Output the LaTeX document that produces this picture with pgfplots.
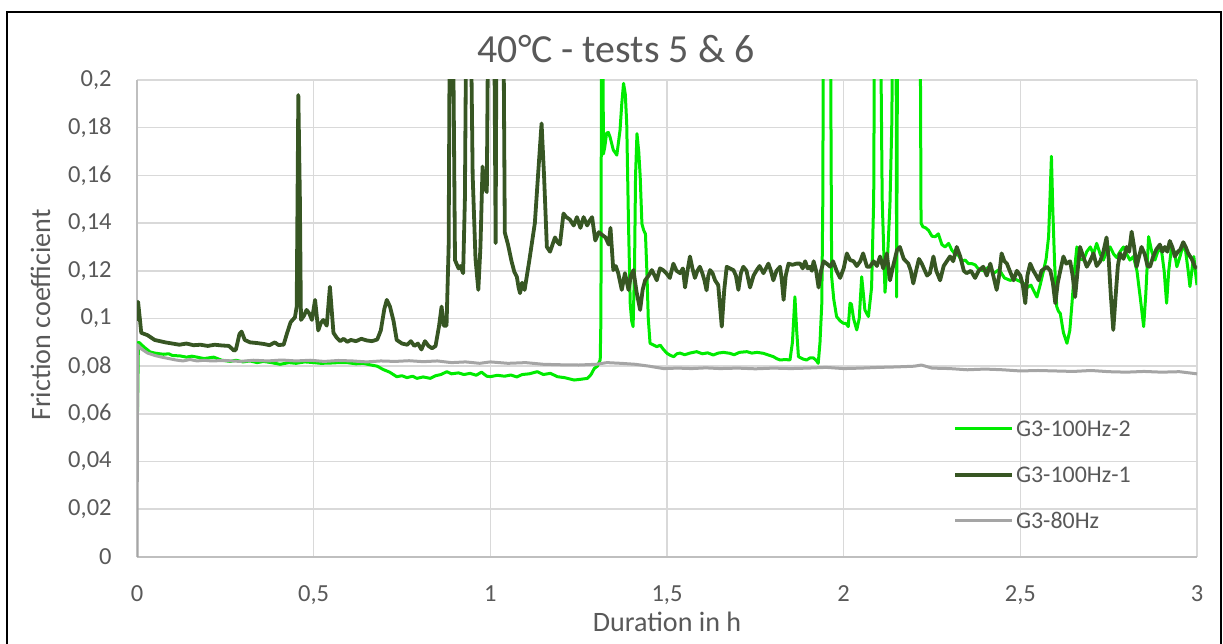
\documentclass[border=0pt]{standalone}
\usepackage{pgfplots}
\pgfplotsset{compat=1.18}
\usepackage{fontspec}
\setmainfont{Carlito}
\definecolor{txt}{HTML}{595959}
\definecolor{gridc}{HTML}{D9D9D9}
\definecolor{axc}{HTML}{BFBFBF}
\definecolor{bright}{RGB}{0,235,0}
\definecolor{dark}{HTML}{375623}
\definecolor{grayl}{HTML}{A5A5A5}
\begin{document}
\begin{tikzpicture}
\useasboundingbox (0,0) rectangle (611.5bp,322bp);
\begin{axis}[
  at={(68.5bp,43.5bp)}, anchor=south west,
  scale only axis, width=530bp, height=238.5bp,
  xmin=0, xmax=3, ymin=0, ymax=0.2,
  axis lines=left, axis line style={draw=axc, line width=0.8bp, -},
  xtick={0,0.5,1,1.5,2,2.5,3},
  xticklabels={0,{0,5},1,{1,5},2,{2,5},3},
  ytick={0,0.02,0.04,0.06,0.08,0.1,0.12,0.14,0.16,0.18,0.2},
  yticklabels={0,{0,02},{0,04},{0,06},{0,08},{0,1},{0,12},{0,14},{0,16},{0,18},{0,2}},
  major tick length=0pt,
  grid=major, major grid style={draw=gridc, line width=0.8bp},
  tick label style={font=\fontsize{12.3}{14}\selectfont, text=txt},
  xticklabel style={anchor=north, inner sep=0pt, yshift=-14bp},
  yticklabel style={anchor=east, inner sep=0pt, xshift=-12.5bp},
  legend image code/.code={\draw[#1] (0bp,0bp) -- (28.5bp,0bp);},
  legend cell align=left,
  legend style={draw=none, fill=none, at={(axis cs:2.292,0.059)}, anchor=north west,
    font=\fontsize{12}{14}\selectfont, text=txt, row sep=15bp, column sep=1bp,
    nodes={inner sep=0pt, text height=8bp, text depth=0bp}},
  every axis plot/.append style={line join=round},
]
\addplot[bright, line width=1.5bp] coordinates {
(0,0.045) (0.004,0.090) (0.008,0.0897) (0.02,0.088) (0.037,0.086) (0.05,0.0855) (0.075,0.085) (0.09,0.0852)
(0.10,0.0845) (0.122,0.0843) (0.14,0.0838) (0.155,0.0842) (0.17,0.0838) (0.19,0.0832) (0.217,0.0838) (0.24,0.0825)
(0.264,0.082) (0.28,0.0825) (0.30,0.0818) (0.32,0.0822) (0.34,0.0815) (0.358,0.082) (0.38,0.0815) (0.405,0.0808)
(0.43,0.0815) (0.45,0.0812) (0.475,0.0818) (0.50,0.0815) (0.52,0.0812) (0.546,0.0813) (0.57,0.0815) (0.594,0.0815)
(0.62,0.081) (0.64,0.0812) (0.659,0.0806) (0.68,0.080) (0.697,0.0786) (0.715,0.0775) (0.735,0.0756) (0.75,0.076)
(0.764,0.0752) (0.78,0.0758) (0.792,0.0749) (0.81,0.0755) (0.83,0.0749) (0.845,0.076) (0.86,0.0765) (0.877,0.0777)
(0.89,0.0768) (0.91,0.0772) (0.925,0.0765) (0.943,0.077) (0.96,0.0762) (0.975,0.0775) (0.99,0.0758) (1.0,0.0756)
(1.02,0.0762) (1.04,0.0758) (1.058,0.0763) (1.075,0.0755) (1.09,0.0765) (1.11,0.0768) (1.133,0.0777) (1.15,0.0765)
(1.17,0.077) (1.19,0.0756) (1.21,0.0752) (1.237,0.0742) (1.255,0.0745) (1.275,0.0749) (1.285,0.0765) (1.294,0.079)
(1.303,0.080) (1.311,0.0827) (1.313,0.10) (1.315,0.25) (1.318,0.25) (1.320,0.169) (1.324,0.172) (1.329,0.1777)
(1.334,0.178) (1.339,0.176) (1.348,0.1707) (1.358,0.1685) (1.367,0.1789) (1.372,0.19) (1.377,0.1986) (1.382,0.194)
(1.386,0.1818) (1.391,0.14) (1.396,0.106) (1.400,0.099) (1.404,0.0966) (1.408,0.12) (1.411,0.160) (1.415,0.1775)
(1.420,0.170) (1.424,0.16) (1.429,0.1397) (1.434,0.137) (1.439,0.1355) (1.443,0.120) (1.447,0.100) (1.452,0.0896)
(1.46,0.089) (1.471,0.0882) (1.481,0.0888) (1.49,0.087) (1.50,0.0854) (1.51,0.0845) (1.519,0.084) (1.528,0.0852)
(1.537,0.0855) (1.55,0.0848) (1.565,0.0855) (1.584,0.0861) (1.60,0.0852) (1.615,0.0856) (1.631,0.0847) (1.645,0.0855)
(1.66,0.0858) (1.678,0.0854) (1.69,0.0848) (1.705,0.0858) (1.726,0.0861) (1.74,0.0855) (1.755,0.0858) (1.773,0.0854)
(1.785,0.0848) (1.801,0.084) (1.81,0.0832) (1.82,0.0826) (1.835,0.0828) (1.848,0.0826) (1.855,0.090) (1.862,0.1091)
(1.867,0.095) (1.872,0.084) (1.885,0.0830) (1.895,0.0826) (1.905,0.0835) (1.914,0.0835) (1.922,0.0825) (1.928,0.0812)
(1.933,0.090) (1.938,0.106) (1.941,0.15) (1.943,0.25) (1.962,0.25) (1.966,0.1175) (1.972,0.108) (1.98,0.1008)
(1.99,0.099) (1.999,0.098) (2.006,0.098) (2.013,0.0966) (2.018,0.1064) (2.022,0.106) (2.028,0.100) (2.037,0.0952)
(2.044,0.100) (2.051,0.1175) (2.056,0.110) (2.06,0.1036) (2.07,0.1008) (2.079,0.113) (2.085,0.15) (2.088,0.25)
(2.103,0.25) (2.109,0.15) (2.117,0.111) (2.124,0.125) (2.131,0.148) (2.136,0.18) (2.141,0.25) (2.148,0.25)
(2.150,0.109) (2.153,0.25) (2.216,0.25) (2.219,0.140) (2.224,0.1385) (2.232,0.138) (2.24,0.137) (2.25,0.1345)
(2.259,0.1343) (2.268,0.1355) (2.278,0.131) (2.287,0.130) (2.297,0.1315) (2.306,0.1287) (2.315,0.127) (2.325,0.1265)
(2.334,0.124) (2.344,0.1245) (2.353,0.123) (2.363,0.123) (2.372,0.1225) (2.38,0.121) (2.395,0.120) (2.41,0.1215)
(2.425,0.119) (2.44,0.1205) (2.455,0.117) (2.471,0.116) (2.485,0.1165) (2.5,0.1155) (2.509,0.1147) (2.52,0.113)
(2.53,0.114) (2.54,0.111) (2.547,0.109) (2.556,0.114) (2.566,0.1203) (2.573,0.125) (2.580,0.1343) (2.585,0.155)
(2.588,0.168) (2.592,0.145) (2.597,0.123) (2.603,0.105) (2.608,0.103) (2.613,0.1022) (2.622,0.094) (2.632,0.0896)
(2.640,0.095) (2.646,0.106) (2.653,0.12) (2.660,0.130) (2.669,0.125) (2.679,0.1245) (2.688,0.128) (2.698,0.130)
(2.707,0.127) (2.716,0.1315) (2.726,0.127) (2.735,0.1245) (2.744,0.128) (2.754,0.130) (2.764,0.127) (2.773,0.1255)
(2.782,0.128) (2.792,0.130) (2.801,0.127) (2.81,0.1245) (2.82,0.126) (2.83,0.12) (2.84,0.108) (2.849,0.0966)
(2.855,0.11) (2.863,0.1343) (2.872,0.128) (2.881,0.1245) (2.891,0.129) (2.900,0.128) (2.907,0.12) (2.914,0.1064)
(2.920,0.12) (2.928,0.130) (2.936,0.128) (2.943,0.1217) (2.952,0.126) (2.961,0.131) (2.968,0.128) (2.975,0.12)
(2.980,0.1134) (2.987,0.122) (2.991,0.126) (2.996,0.119) (3.0,0.114)
};
\addlegendentry{G3-100Hz-2}
\addplot[dark, line width=1.9bp] coordinates {
(0,0.099) (0.003,0.107) (0.008,0.100) (0.012,0.094) (0.03,0.093) (0.05,0.091) (0.08,0.090) (0.10,0.0895)
(0.12,0.0890) (0.14,0.0895) (0.16,0.0888) (0.18,0.0890) (0.20,0.0885) (0.22,0.0890) (0.24,0.0887) (0.26,0.0885)
(0.275,0.0865) (0.28,0.087) (0.29,0.0935) (0.296,0.0945) (0.305,0.091) (0.32,0.090) (0.34,0.0897) (0.36,0.0893)
(0.375,0.0888) (0.39,0.090) (0.40,0.0889) (0.415,0.0890) (0.425,0.094) (0.435,0.0985) (0.447,0.1005) (0.452,0.105)
(0.4566,0.1937) (0.461,0.150) (0.464,0.0994) (0.472,0.1010) (0.480,0.1036) (0.488,0.1020) (0.495,0.0994) (0.504,0.1078)
(0.513,0.095) (0.520,0.098) (0.527,0.0994) (0.537,0.097) (0.546,0.1133) (0.556,0.094) (0.565,0.092) (0.575,0.0905)
(0.585,0.0915) (0.595,0.0902) (0.605,0.0910) (0.62,0.0905) (0.635,0.0915) (0.65,0.0908) (0.665,0.0905) (0.68,0.0912)
(0.69,0.095) (0.70,0.104) (0.707,0.1078) (0.716,0.105) (0.726,0.099) (0.735,0.091) (0.75,0.0895) (0.765,0.089)
(0.775,0.0905) (0.785,0.0885) (0.795,0.0895) (0.805,0.087) (0.815,0.0905) (0.825,0.0885) (0.835,0.0875) (0.845,0.0885)
(0.855,0.097) (0.862,0.105) (0.868,0.097) (0.876,0.097) (0.882,0.130) (0.886,0.25) (0.893,0.25) (0.90,0.1245)
(0.91,0.121) (0.915,0.122) (0.923,0.119) (0.928,0.150) (0.933,0.25) (0.943,0.25) (0.950,0.16) (0.958,0.125)
(0.966,0.112) (0.972,0.130) (0.978,0.1637) (0.984,0.155) (0.990,0.153) (0.995,0.25) (1.010,0.25) (1.015,0.1316)
(1.018,0.25) (1.036,0.25) (1.041,0.136) (1.05,0.131) (1.06,0.124) (1.068,0.1195) (1.075,0.1175) (1.080,0.113)
(1.084,0.1106) (1.090,0.115) (1.097,0.112) (1.103,0.1175) (1.11,0.124) (1.12,0.134) (1.126,0.140) (1.135,0.160)
(1.145,0.1818) (1.152,0.160) (1.160,0.130) (1.169,0.128) (1.176,0.131) (1.183,0.134) (1.190,0.132) (1.197,0.131)
(1.207,0.144) (1.215,0.1425) (1.225,0.1415) (1.236,0.139) (1.245,0.1425) (1.255,0.138) (1.264,0.1425) (1.274,0.139)
(1.281,0.141) (1.288,0.1425) (1.297,0.1327) (1.307,0.1362) (1.317,0.135) (1.326,0.134) (1.335,0.131) (1.340,0.138)
(1.348,0.1203) (1.355,0.122) (1.362,0.119) (1.372,0.112) (1.381,0.119) (1.391,0.112) (1.398,0.118) (1.405,0.1203)
(1.414,0.111) (1.424,0.1036) (1.431,0.112) (1.438,0.116) (1.448,0.118) (1.457,0.1203) (1.465,0.118) (1.471,0.116)
(1.48,0.121) (1.489,0.1203) (1.498,0.119) (1.508,0.117) (1.518,0.123) (1.527,0.12) (1.537,0.119) (1.545,0.121)
(1.551,0.113) (1.558,0.12) (1.565,0.126) (1.572,0.121) (1.579,0.117) (1.586,0.12) (1.593,0.1217) (1.60,0.119)
(1.606,0.116) (1.612,0.1118) (1.617,0.118) (1.622,0.1203) (1.629,0.119) (1.636,0.116) (1.645,0.114) (1.655,0.0966)
(1.662,0.112) (1.669,0.1217) (1.678,0.121) (1.688,0.1203) (1.695,0.118) (1.702,0.112) (1.709,0.119) (1.716,0.1217)
(1.725,0.12) (1.735,0.113) (1.745,0.118) (1.754,0.1203) (1.762,0.122) (1.773,0.119) (1.78,0.121) (1.787,0.123)
(1.794,0.12) (1.801,0.116) (1.81,0.12) (1.82,0.1217) (1.825,0.116) (1.83,0.1078) (1.836,0.118) (1.844,0.123)
(1.855,0.1225) (1.866,0.123) (1.877,0.123) (1.884,0.121) (1.891,0.124) (1.898,0.121) (1.905,0.1217) (1.91,0.12)
(1.915,0.124) (1.922,0.12) (1.929,0.113) (1.936,0.12) (1.943,0.124) (1.952,0.123) (1.962,0.1217) (1.97,0.124)
(1.98,0.12) (1.99,0.117) (2.0,0.121) (2.009,0.1273) (2.018,0.1245) (2.028,0.124) (2.037,0.122) (2.047,0.124)
(2.055,0.1273) (2.066,0.1217) (2.074,0.1217) (2.085,0.124) (2.094,0.122) (2.103,0.126) (2.112,0.121) (2.122,0.1273)
(2.131,0.116) (2.140,0.122) (2.151,0.1287) (2.159,0.130) (2.170,0.125) (2.183,0.123) (2.190,0.12) (2.197,0.1147)
(2.205,0.12) (2.213,0.125) (2.221,0.123) (2.230,0.12) (2.236,0.118) (2.244,0.119) (2.254,0.126) (2.262,0.12)
(2.273,0.116) (2.283,0.122) (2.292,0.124) (2.301,0.126) (2.310,0.124) (2.320,0.130) (2.330,0.126) (2.340,0.12)
(2.348,0.119) (2.360,0.12) (2.372,0.117) (2.382,0.12) (2.395,0.1217) (2.405,0.118) (2.415,0.123) (2.425,0.117)
(2.433,0.112) (2.440,0.118) (2.447,0.1273) (2.455,0.124) (2.462,0.123) (2.470,0.12) (2.481,0.116) (2.490,0.12)
(2.500,0.118) (2.507,0.114) (2.514,0.1064) (2.520,0.118) (2.528,0.123) (2.537,0.12) (2.545,0.118) (2.552,0.116)
(2.560,0.12) (2.575,0.1217) (2.585,0.12) (2.592,0.115) (2.599,0.1064) (2.606,0.115) (2.613,0.12) (2.622,0.126)
(2.630,0.123) (2.641,0.124) (2.648,0.118) (2.655,0.109) (2.662,0.12) (2.669,0.130) (2.678,0.126) (2.688,0.1217)
(2.697,0.124) (2.707,0.1273) (2.716,0.122) (2.726,0.124) (2.735,0.128) (2.744,0.134) (2.750,0.125) (2.756,0.11)
(2.763,0.0952) (2.770,0.11) (2.776,0.122) (2.782,0.1273) (2.792,0.125) (2.801,0.130) (2.808,0.128) (2.815,0.1364)
(2.822,0.13) (2.829,0.1217) (2.836,0.126) (2.843,0.130) (2.852,0.127) (2.860,0.122) (2.867,0.1217) (2.876,0.126)
(2.885,0.129) (2.895,0.131) (2.902,0.128) (2.909,0.130) (2.916,0.128) (2.923,0.1325) (2.930,0.13) (2.937,0.126)
(2.946,0.128) (2.953,0.129) (2.961,0.132) (2.968,0.13) (2.975,0.1273) (2.985,0.125) (2.994,0.1217) (3.0,0.121)
};
\addlegendentry{G3-100Hz-1}
\addplot[grayl, line width=1.5bp] coordinates {
(0,0.0) (0.002,0.089) (0.01,0.0875) (0.03,0.0855) (0.05,0.0845) (0.07,0.0838) (0.09,0.0832) (0.11,0.0826)
(0.13,0.0822) (0.15,0.0828) (0.17,0.0822) (0.19,0.0825) (0.21,0.0822) (0.25,0.0824) (0.29,0.0820) (0.33,0.0825)
(0.37,0.0822) (0.41,0.0826) (0.45,0.0822) (0.49,0.0825) (0.53,0.0820) (0.57,0.0824) (0.61,0.0822) (0.65,0.0818)
(0.69,0.0822) (0.73,0.0820) (0.77,0.0823) (0.81,0.0819) (0.85,0.0822) (0.89,0.0815) (0.93,0.0818) (0.97,0.0812)
(1.0,0.0818) (1.05,0.0812) (1.10,0.0815) (1.15,0.0808) (1.20,0.0806) (1.25,0.0805) (1.30,0.0808) (1.33,0.0815)
(1.37,0.0812) (1.41,0.0808) (1.45,0.0800) (1.49,0.0790) (1.53,0.0792) (1.57,0.0790) (1.61,0.0793) (1.65,0.0790)
(1.70,0.0792) (1.75,0.0789) (1.80,0.0792) (1.85,0.0790) (1.90,0.0792) (1.95,0.0795) (2.0,0.0790) (2.05,0.0792)
(2.10,0.0795) (2.15,0.0797) (2.20,0.0800) (2.22,0.0805) (2.25,0.0792) (2.30,0.0790) (2.35,0.0785) (2.40,0.0788)
(2.45,0.0785) (2.50,0.0780) (2.55,0.0782) (2.60,0.0780) (2.65,0.0778) (2.70,0.0782) (2.75,0.0777) (2.80,0.0775)
(2.85,0.0778) (2.90,0.0775) (2.95,0.0777) (3.0,0.0768)
};
\addlegendentry{G3-80Hz}
\end{axis}
\node[font=\fontsize{20}{24}\selectfont, text=txt, anchor=base] at (308bp,290.7bp) {40°C - tests 5 \& 6};
\node[font=\fontsize{14.1}{17}\selectfont, text=txt, anchor=base] at (333.5bp,6.5bp) {Duration in h};
\node[font=\fontsize{14.1}{17}\selectfont, text=txt, anchor=base, rotate=90] at (25bp,164.5bp) {Friction coefficient};
\draw[line width=1.2bp] (3.5bp,0) -- (3.5bp,316bp) -- (610.5bp,316bp) -- (610.5bp,0);
\end{tikzpicture}
\end{document}
